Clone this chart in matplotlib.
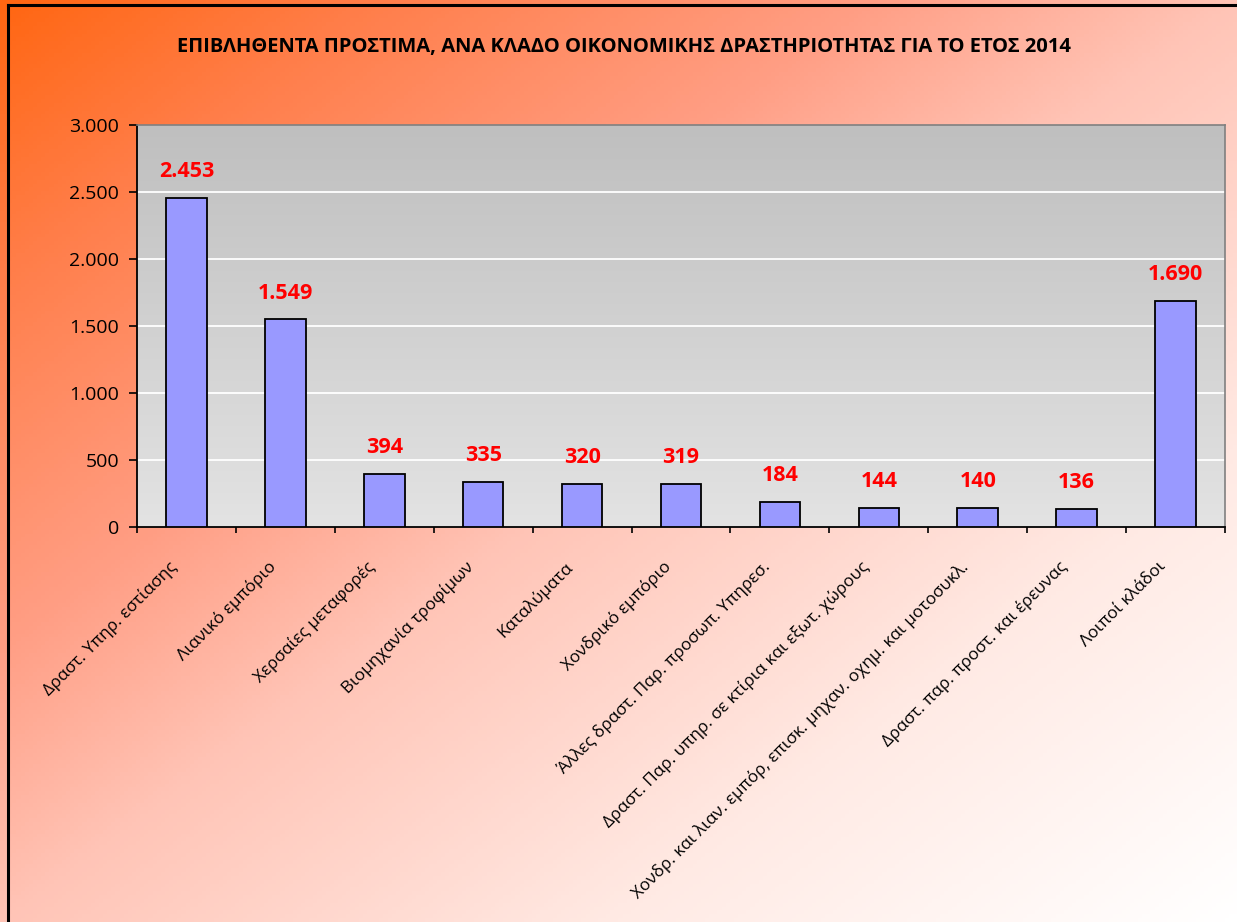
import numpy as np
import matplotlib
matplotlib.use("Agg")
import matplotlib.pyplot as plt
from matplotlib.colors import LinearSegmentedColormap
from matplotlib.lines import Line2D
from matplotlib.transforms import ScaledTranslation

plt.rcParams['font.family'] = ['Open Sans', 'DejaVu Sans']

# data
categories = [
    "Δραστ. Υπηρ. εστίασης",
    "Λιανικό εμπόριο",
    "Χερσαίες μεταφορές",
    "Βιομηχανία τροφίμων",
    "Καταλύματα",
    "Χονδρικό εμπόριο",
    "Άλλες δραστ. Παρ. προσωπ. Υπηρεσ.",
    "Δραστ. Παρ. υπηρ. σε κτίρια και εξωτ. χώρους",
    "Χονδρ. και λιαν. εμπόρ, επισκ. μηχαν. οχημ. και μοτοσυκλ.",
    "Δραστ. παρ. προστ. και έρευνας",
    "Λοιποί κλάδοι",
]
values = [2453, 1549, 394, 335, 320, 319, 184, 144, 140, 136, 1690]
value_labels = ["2.453", "1.549", "394", "335", "320", "319", "184", "144", "140", "136", "1.690"]
y_ticks = [0, 500, 1000, 1500, 2000, 2500, 3000]
y_tick_labels = ["0", "500", "1.000", "1.500", "2.000", "2.500", "3.000"]
title = "ΕΠΙΒΛΗΘΕΝΤΑ ΠΡΟΣΤΙΜΑ, ΑΝΑ ΚΛΑΔΟ ΟΙΚΟΝΟΜΙΚΗΣ ΔΡΑΣΤΗΡΙΟΤΗΤΑΣ ΓΙΑ ΤΟ ΕΤΟΣ 2014"

fig = plt.figure(figsize=(12.37, 9.22), dpi=100)

# diagonal orange -> white background
bg = fig.add_axes([0, 0, 1, 1], zorder=-10)
bg.axis('off')
xx, yy = np.meshgrid(np.linspace(0, 1, 300), np.linspace(0, 1, 240))
t = (xx + yy) / 2
bg_cmap = LinearSegmentedColormap.from_list(
    'bg', [(0, '#FF6612'), (0.15, '#FF7E4A'), (0.35, '#FF9E84'), (0.5, '#FFC4B6'),
           (0.75, '#FFEAE4'), (1, '#FFFFFF')])
bg.imshow(t, cmap=bg_cmap, aspect='auto', extent=[0, 1, 0, 1], origin='upper', vmin=0, vmax=1)
bg.set_xlim(0, 1)
bg.set_ylim(0, 1)

# outer border (left and top only visible)
fig.add_artist(Line2D([8 / 1237, 8 / 1237], [0, 1 - 5 / 922], transform=fig.transFigure, color='black', lw=2.2))
fig.add_artist(Line2D([8 / 1237, 1], [1 - 5 / 922, 1 - 5 / 922], transform=fig.transFigure, color='black', lw=2.2))

ax = fig.add_axes([137 / 1237, 1 - 527 / 922, (1225 - 137) / 1237, (527 - 125) / 922])
n = len(categories)
x = np.arange(n)

# gray gradient plot area (darker at top)
grad = np.linspace(0, 1, 256).reshape(-1, 1)
pa_cmap = LinearSegmentedColormap.from_list('pa', ['#E3E3E3', '#BFBFBF'])
ax.imshow(grad, cmap=pa_cmap, aspect='auto', extent=[-0.5, n - 0.5, 0, 3000], origin='lower', zorder=0)

for yv in y_ticks[1:-1]:
    ax.axhline(yv, color='white', lw=1.3, zorder=1)

ax.bar(x, values, width=0.41, color='#9999FF', edgecolor='black', linewidth=1.3, zorder=3)

for xi, v, lab in zip(x, values, value_labels):
    ax.annotate(lab, (xi, v), xytext=(0, 19), textcoords='offset points',
                ha='center', va='center', color='#FF0000', fontsize=15.5, fontweight='bold')

ax.set_xlim(-0.5, n - 0.5)
ax.set_ylim(0, 3000)
ax.set_yticks(y_ticks)
ax.set_yticklabels(y_tick_labels, fontsize=14)
ax.set_xticks(np.arange(n + 1) - 0.5)
ax.set_xticklabels([])
ax.set_xticks(x, minor=True)
ax.set_xticklabels(categories, minor=True, rotation=45, ha='right', va='center',
                   rotation_mode='anchor', fontsize=12.3)
ax.tick_params(axis='x', which='minor', length=0, pad=27)
ax.tick_params(axis='x', which='major', length=4.5, width=1.2, direction='out')
ax.tick_params(axis='y', length=6, width=1.2, direction='out', pad=7)
shift = ScaledTranslation(-12 / 100, 0, fig.dpi_scale_trans)
for lab in ax.get_xticklabels(minor=True):
    lab.set_transform(lab.get_transform() + shift)

for s in ['left', 'bottom']:
    ax.spines[s].set_color('black')
    ax.spines[s].set_linewidth(1.3)
for s in ['top', 'right']:
    ax.spines[s].set_color('#808080')
    ax.spines[s].set_linewidth(1.2)

fig.text(624 / 1237, 1 - 47 / 922, title, ha='center', va='center', fontsize=14.5, fontweight='bold')

fig.savefig('out.png', dpi=100)
